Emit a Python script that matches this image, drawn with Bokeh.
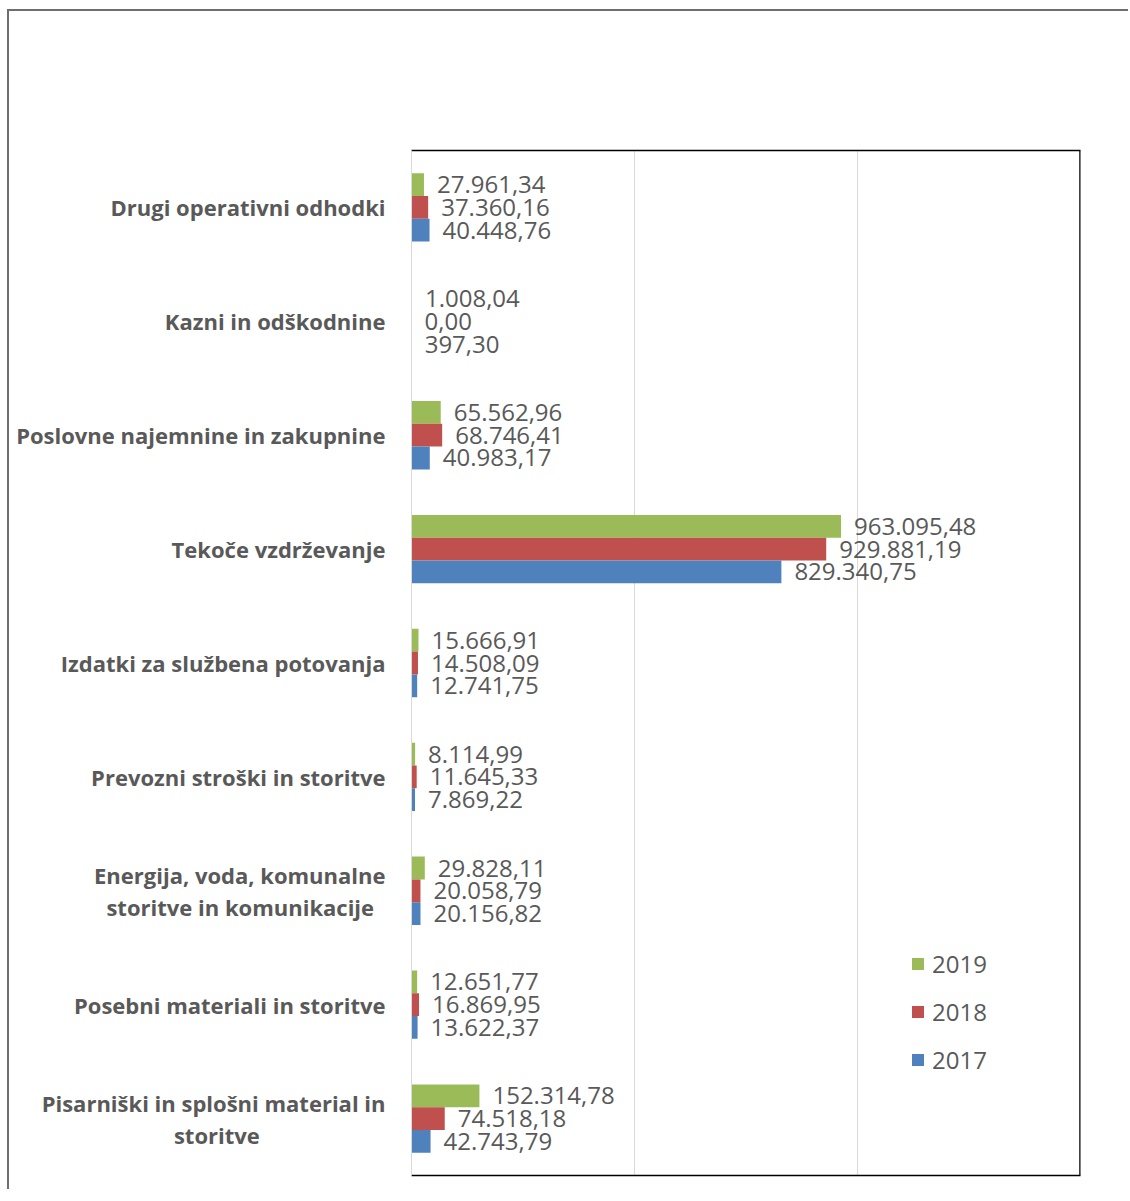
from bokeh.plotting import figure
from bokeh.models import (ColumnDataSource, LinearAxis, Range1d, FactorRange, Span,
                          Legend, LegendItem, FixedTicker)
from bokeh.transform import dodge
from bokeh.core.properties import value
from bokeh.embed import file_html
from bokeh.resources import INLINE

NB = "\u00a0"
# categories, listed from bottom to top
categories = [
    "Pisarniški in splošni material in\nstoritve" + NB * 22,
    "Posebni materiali in storitve",
    "Energija, voda, komunalne\nstoritve in komunikacije" + NB * 2,
    "Prevozni stroški in storitve",
    "Izdatki za službena potovanja",
    "Tekoče vzdrževanje",
    "Poslovne najemnine in zakupnine",
    "Kazni in odškodnine",
    "Drugi operativni odhodki",
]
v2019 = [152314.78, 12651.77, 29828.11, 8114.99, 15666.91, 963095.48, 65562.96, 1008.04, 27961.34]
v2018 = [74518.18, 16869.95, 20058.79, 11645.33, 14508.09, 929881.19, 68746.41, 0.00, 37360.16]
v2017 = [42743.79, 13622.37, 20156.82, 7869.22, 12741.75, 829340.75, 40983.17, 397.30, 40448.76]
series_names = ["2019", "2018", "2017"]
colors = ["#9BBB59", "#C0504D", "#4F81BD"]
x_max = 1500000
grid_ticks = [500000, 1000000]


def fmt(v):
    s = f"{v:,.2f}"
    return s.replace(",", "X").replace(".", ",").replace("X", ".")


src = ColumnDataSource(dict(
    cat=categories,
    v2019=v2019, v2018=v2018, v2017=v2017,
    l2019=[fmt(v) for v in v2019],
    l2018=[fmt(v) for v in v2018],
    l2017=[fmt(v) for v in v2017],
))

W, H = 1121, 1180
p = figure(width=W, height=H, y_range=FactorRange(*categories), x_range=Range1d(0, x_max),
           output_backend="svg", toolbar_location=None, x_axis_location=None,
           min_border_left=402, min_border_top=139, min_border_right=W - 402 - 669,
           min_border_bottom=H - 139 - 1025,
           styles={"border-left": "2px solid #6E6E6E", "border-top": "2px solid #6E6E6E",
                   "margin-left": "7px", "margin-top": "9px"})
p.outline_line_color = None
p.background_fill_color = "white"
p.border_fill_color = "white"

offsets = [0.2, 0.0, -0.2]
renderers = []
for name, col, off in zip(series_names, colors, offsets):
    r = p.hbar(y=dodge("cat", off, range=p.y_range), right="v" + name, left=0, height=0.2,
               source=src, fill_color=col, line_color=None)
    renderers.append(r)
    p.text(x="v" + name, y=dodge("cat", off, range=p.y_range), text="l" + name, source=src,
           x_offset=13, text_align="left", text_baseline="middle",
           text_font=value("Open Sans"), text_font_size="24px", text_color="#595959")

# grid
p.xgrid.ticker = FixedTicker(ticks=grid_ticks)
p.xgrid.grid_line_color = "#D9D9D9"
p.ygrid.grid_line_color = None

# left category axis
ya = p.yaxis[0]
ya.axis_line_color = "#D9D9D9"
ya.major_tick_line_color = None
ya.minor_tick_line_color = None
ya.major_label_standoff = 20
ya.major_label_text_font = "Open Sans"
ya.major_label_text_font_style = "bold"
ya.major_label_text_font_size = "22px"
ya.major_label_text_color = "#595959"
ya.major_label_text_line_height = 1.07

# frame lines: bottom, top, right
for loc in ["below", "above"]:
    ax = LinearAxis(ticker=FixedTicker(ticks=[]), axis_line_color="black", axis_line_width=1.5,
                    major_tick_line_color=None, minor_tick_line_color=None)
    p.add_layout(ax, loc)
p.add_layout(Span(location=x_max, dimension="height", line_color="black", line_width=2.5))

legend = Legend(items=[LegendItem(label=n, renderers=[r]) for n, r in zip(series_names, renderers)],
                location=(499, 99), orientation="vertical",
                glyph_width=15, glyph_height=15, label_standoff=7, spacing=15,
                padding=0, margin=0, border_line_color=None, background_fill_alpha=0,
                label_text_font="Open Sans", label_text_font_size="24px",
                label_text_color="#595959")
p.add_layout(legend)

open("out.html", "w").write(file_html(p, INLINE))
